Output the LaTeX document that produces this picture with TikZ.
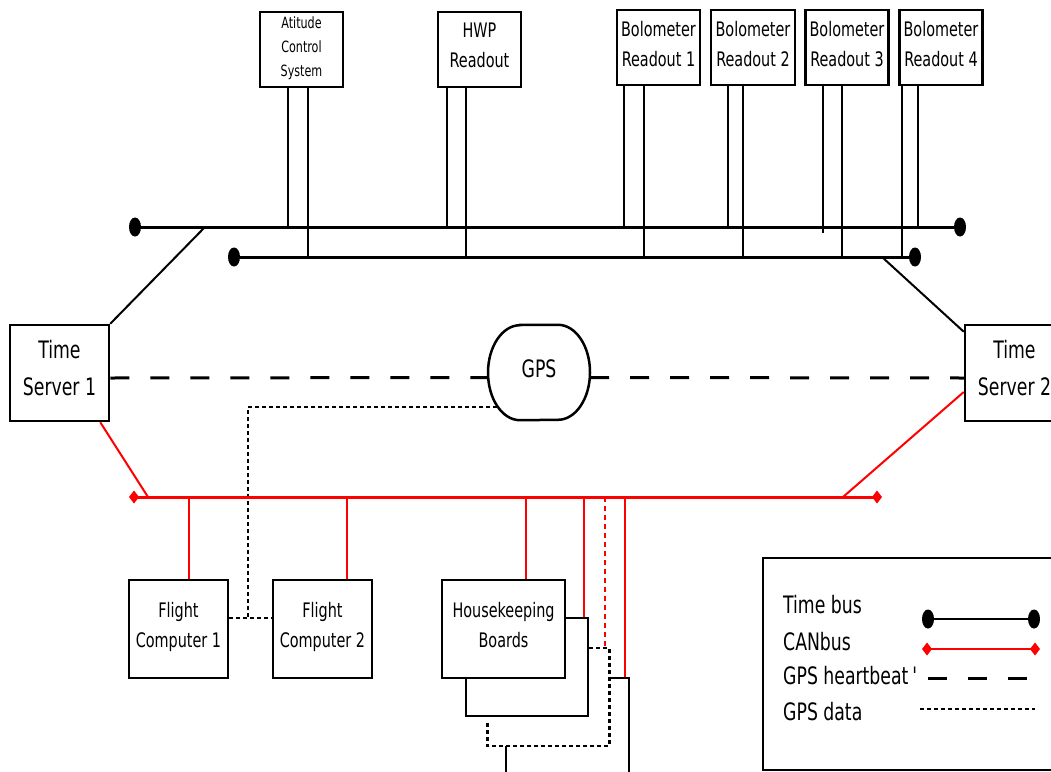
\documentclass[tikz,border=0pt]{standalone}
\usepackage{fontspec}
\setmainfont{DejaVu Sans Condensed}[FakeStretch=0.8]
\usetikzlibrary{calc}
\definecolor{canred}{RGB}{255,0,0}
\newcommand\busdot[1]{\fill (#1) ellipse [x radius=6pt, y radius=9.5pt];}
\newcommand\candiamond[1]{\fill[canred] (#1) +(-5,0) -- +(0,-6.5) -- +(5,0) -- +(0,6.5) -- cycle;}
\newcommand\tapline[3]{\path ([xshift=#2pt]#1.south) coordinate (tmp); \draw[tap] (tmp) -- (tmp |- #3);}
\begin{document}
\begin{tikzpicture}[x=1pt,y=-1pt,
  box/.style={draw, line width=2.5pt, fill=white, inner sep=0pt, align=center, text depth=8pt,
    minimum width=83pt, minimum height=75pt, font=\fontsize{20}{30}\selectfont},
  bigbox/.style={box, minimum width=99pt, minimum height=96pt, text depth=10pt, font=\fontsize{24}{37}\selectfont},
  bus/.style={line width=3pt},
  tap/.style={line width=2pt},
  canbus/.style={draw=canred, line width=3pt},
  cantap/.style={draw=canred, line width=2pt},
  beat/.style={line width=3pt, dash pattern=on 19pt off 21pt},
  gpsdata/.style={line width=2.5pt, dash pattern=on 4pt off 3pt},
  lbl/.style={anchor=base west, inner sep=0pt, font=\fontsize{24}{30}\selectfont}
]
\useasboundingbox (0,0) rectangle (1051,771);

% ---------- coordinates of buses
\coordinate (tbL) at (135,227); \coordinate (tbR) at (960,227);
\coordinate (lbL) at (234,257); \coordinate (lbR) at (915,257);
\coordinate (cbL) at (134,497); \coordinate (cbR) at (877,497);

% ---------- nodes
\node[box, font=\fontsize{15.5}{24}\selectfont, text depth=6pt] (acs) at (301.5,49.5) {Atitude\\Control\\System};
\node[box] (hwp) at (479.5,49.5) {HWP\\Readout};
\node[box] (br1) at (658.5,47.5) {Bolometer\\Readout 1};
\node[box, minimum width=84pt] (br2) at (753,47.5) {Bolometer\\Readout 2};
\node[box] (br3) at (847,47.5) {Bolometer\\Readout 3};
\node[box] (br4) at (941,47.5) {Bolometer\\Readout 4};

\node[bigbox] (ts1) at (59.5,373) {Time\\Server 1};
\node[bigbox] (ts2) at (1014.5,373) {Time\\Server 2};

\node[inner sep=0pt, minimum width=102pt, minimum height=95pt, text depth=8pt, font=\fontsize{24}{30}\selectfont] (gps) at (539,372.5) {GPS};
\draw[line width=2.5pt] ([xshift=-19pt]gps.north) -- ([xshift=19pt]gps.north)
  arc[start angle=90, end angle=-90, x radius=32pt, y radius=47.5pt]
  -- ([xshift=-19pt]gps.south)
  arc[start angle=270, end angle=90, x radius=32pt, y radius=47.5pt] -- cycle;

\node[box, minimum width=99pt, minimum height=98pt] (fc1) at (178.5,629) {Flight\\Computer 1};
\node[box, minimum width=99pt, minimum height=98pt] (fc2) at (322.5,629) {Flight\\Computer 2};
\node[box, minimum width=122pt, minimum height=98pt] (hkb) at (527,667) {};
\node[box, minimum width=123pt, minimum height=98pt] (hk) at (503.5,629) {Housekeeping\\Boards};

\node[draw, line width=2.5pt, inner sep=0pt, minimum width=312pt, minimum height=212pt] (legend) at (919,664) {};

% ---------- time buses
\draw[bus] (tbL) -- (tbR);
\draw[bus] (lbL) -- (lbR);
\busdot{tbL} \busdot{tbR} \busdot{lbL} \busdot{lbR}

\tapline{acs}{-13.5}{tbL}
\tapline{acs}{6}{lbL}
\tapline{hwp}{-32.5}{tbL}
\tapline{hwp}{-13.5}{lbL}
\tapline{br1}{-34.5}{tbL}
\tapline{br1}{-14.5}{lbL}
\tapline{br2}{-25}{tbL}
\tapline{br2}{-10}{lbL}
\path ([xshift=-24pt]br3.south) coordinate (b3a); \draw[tap] (b3a) -- ++(0,147);
\tapline{br3}{-5}{lbL}
\tapline{br4}{-39}{lbL}
\tapline{br4}{-23}{tbL}

\coordinate (tsj1) at (205,227);
\draw[tap] (ts1.north east) -- (tsj1);
\coordinate (tsj2) at (882,257);
\draw[tap] ([yshift=-8pt]ts2.north west) -- (tsj2);

% ---------- GPS heartbeat
\draw[beat] ([yshift=-5pt]ts1.east) -- ([yshift=-5pt]gps.west);
\draw[beat] ([yshift=-5pt]gps.east) -- ([yshift=-5pt]ts2.west);

% ---------- GPS data
\coordinate (gd) at (497,407);
\coordinate (fcj) at (248,618);
\draw[gpsdata] (gd) -| (fcj);
\draw[gpsdata] (fc1.east |- fcj) -- (fc2.west |- fcj);

% ---------- CANbus
\coordinate (cj1) at (148,497);
\draw[cantap] ([xshift=-10pt]ts1.south east) -- (cj1);
\coordinate (cj2) at (843,497);
\draw[cantap] ([yshift=-19pt]ts2.west) -- (cj2);
\draw[canbus] (cbL) -- (cbR);
\candiamond{cbL} \candiamond{cbR}

\path ([xshift=10.5pt]fc1.north) coordinate (d1); \draw[cantap] (d1 |- cbL) -- (d1);
\path ([xshift=24.5pt]fc2.north) coordinate (d2); \draw[cantap] (d2 |- cbL) -- (d2);
\path ([xshift=22.5pt]hk.north) coordinate (d3); \draw[cantap] (d3 |- cbL) -- (d3);
\path ([xshift=57pt]hkb.north) coordinate (d4); \draw[cantap] (d4 |- cbL) -- (d4);
\path (hkb.east) ++(16,-19) coordinate (d5); \draw[cantap, dash pattern=on 5pt off 4pt] (d5 |- cbL) -- (d5);
\path (hkb.east) ++(36,11) coordinate (d6); \draw[cantap] (d6 |- cbL) -- (d6);

% ---------- links below housekeeping boards
\path (hkb.east) ++(0,-19) coordinate (h1);
\path (h1) ++(20,0) coordinate (h2);
\path (h2) ++(0,98) coordinate (h3);
\path (h3) ++(-122,0) coordinate (h4);
\path (h4) ++(0,-24) coordinate (h5);
\draw[gpsdata] (h1) -- (h2) -- (h3) -- (h4) -- (h5);
\path (h4) ++(19,0) coordinate (h6);
\draw[tap] (h6) -- ++(0,30);
\path (hkb.east) ++(20,11) coordinate (k1);
\path (k1) ++(20,0) coordinate (k2);
\draw[tap] (k1) -- (k2) -- ++(0,100);

% ---------- legend
\node[lbl] (l1) at (783,613) {Time bus};
\node[lbl] (l2) at (783,650) {CANbus};
\node[lbl] (l3) at (783,684) {GPS heartbeat\,\textquotesingle};
\node[lbl] (l4) at (783,720) {GPS data};

\coordinate (ka) at (928,619); \coordinate (kb) at (1034,619);
\draw[tap] (ka) -- (kb); \busdot{ka} \busdot{kb}
\coordinate (kc) at (927,649); \coordinate (kd) at (1035,649);
\draw[canbus, line width=2.5pt] (kc) -- (kd); \candiamond{kc} \candiamond{kd}
\coordinate (ke) at (928,678); \coordinate (kf) at (1027,678);
\draw[beat] (ke) -- (kf);
\coordinate (kg) at (920,709); \coordinate (kh) at (1035,709);
\draw[gpsdata] (kg) -- (kh);
\end{tikzpicture}
\end{document}
